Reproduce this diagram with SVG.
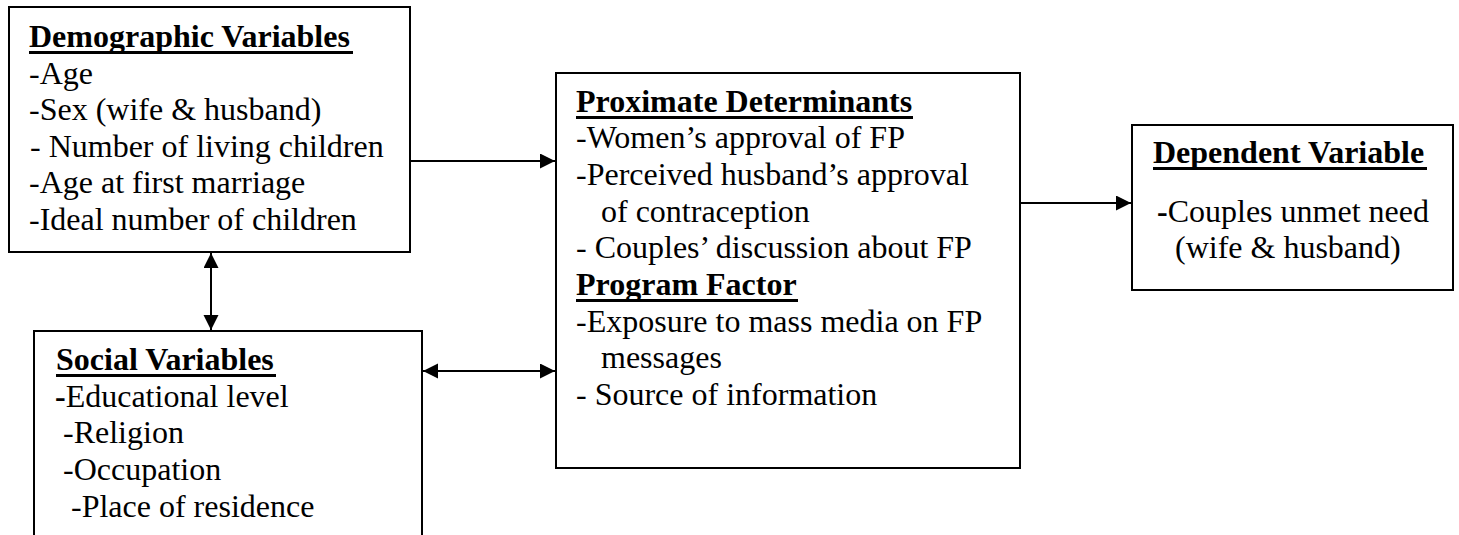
<svg xmlns="http://www.w3.org/2000/svg" width="1459" height="535" viewBox="0 0 1459 535">
<style>
  .box { fill: #fff; stroke: #000; stroke-width: 2; }
  .t { font-family: "Liberation Serif", "Times New Roman", serif; font-size: 32px; fill: #000; }
  .h { font-weight: bold; }
  .ul { stroke: #000; stroke-width: 3; }
  .conn { stroke: #000; stroke-width: 2; fill: none; }
</style>
<defs>
  <marker id="ah" markerUnits="userSpaceOnUse" markerWidth="16" markerHeight="16" refX="15" refY="7.5" orient="auto-start-reverse">
    <path d="M0,0 L15,7.5 L0,15 Z" fill="#000"/>
  </marker>
</defs>
<rect width="1459" height="535" fill="#fff"/>

<g id="node-demographic">
  <rect class="box" x="9" y="7" width="401" height="245"/>
  <text class="t h" x="29" y="47">Demographic Variables</text>
  <line class="ul" x1="29" y1="52.5" x2="353" y2="52.5"/>
  <text class="t" x="29" y="84">-Age</text>
  <text class="t" x="29" y="120">-Sex (wife &amp; husband)</text>
  <text class="t" x="30" y="157">- Number of living children</text>
  <text class="t" x="29" y="193">-Age at first marriage</text>
  <text class="t" x="29" y="230">-Ideal number of children</text>
</g>

<g id="node-social">
  <rect class="box" x="34" y="331" width="388" height="240"/>
  <text class="t h" x="56" y="370">Social Variables</text>
  <line class="ul" x1="56" y1="375.5" x2="276" y2="375.5"/>
  <text class="t" x="55" y="407"><tspan font-weight="bold">-</tspan>Educational level</text>
  <text class="t" x="63" y="443">-Religion</text>
  <text class="t" x="63" y="480">-Occupation</text>
  <text class="t" x="71" y="517">-Place of residence</text>
</g>

<g id="node-proximate">
  <rect class="box" x="556" y="73" width="464" height="395"/>
  <text class="t h" x="576" y="112">Proximate Determinants</text>
  <line class="ul" x1="576" y1="117.5" x2="913" y2="117.5"/>
  <text class="t" x="576" y="148">-Women’s approval of FP</text>
  <text class="t" x="576" y="185">-Perceived husband’s approval</text>
  <text class="t" x="601" y="222">of contraception</text>
  <text class="t" x="576" y="258">- Couples’ discussion about FP</text>
  <text class="t h" x="576" y="295">Program Factor</text>
  <line class="ul" x1="576" y1="300.5" x2="798" y2="300.5"/>
  <text class="t" x="576" y="332">-Exposure to mass media on FP</text>
  <text class="t" x="601" y="368">messages</text>
  <text class="t" x="576" y="405">- Source of information</text>
</g>

<g id="node-dependent">
  <rect class="box" x="1132" y="125" width="321" height="165"/>
  <text class="t h" x="1153" y="163">Dependent Variable</text>
  <line class="ul" x1="1153" y1="168.5" x2="1427" y2="168.5"/>
  <text class="t" x="1157" y="222"><tspan font-weight="bold">-</tspan>Couples unmet need</text>
  <text class="t" x="1175" y="258">(wife &amp; husband)</text>
</g>

<g id="connectors">
  <line class="conn" x1="411" y1="161" x2="555" y2="161" marker-end="url(#ah)"/>
  <line class="conn" x1="211" y1="253" x2="211" y2="330" marker-start="url(#ah)" marker-end="url(#ah)"/>
  <line class="conn" x1="423" y1="371" x2="555" y2="371" marker-start="url(#ah)" marker-end="url(#ah)"/>
  <line class="conn" x1="1021" y1="203" x2="1131" y2="203" marker-end="url(#ah)"/>
</g>
</svg>
